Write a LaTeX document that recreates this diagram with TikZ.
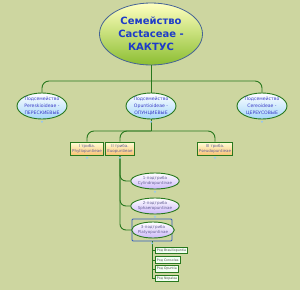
\documentclass[tikz,border=0pt]{standalone}
\usepackage{fontspec}
\setmainfont{DejaVu Sans}
\usetikzlibrary{shapes.geometric,positioning}
\definecolor{bgcol}{RGB}{205,214,160}
\definecolor{linkgreen}{RGB}{40,120,30}
\definecolor{rootline}{RGB}{70,100,150}
\definecolor{rootblue}{RGB}{30,60,200}
\definecolor{textblue}{RGB}{60,60,200}
\definecolor{textgray}{RGB}{100,95,150}
\definecolor{selblue}{RGB}{50,90,190}
\definecolor{knobblue}{RGB}{150,200,240}

\begin{document}
\begin{tikzpicture}[x=1pt,y=-1pt,
  every node/.style={font=\fontsize{4}{5}\selectfont, align=center, inner sep=0pt},
  link/.style={draw=linkgreen, line width=0.9pt, rounded corners=7pt},
  root/.style={ellipse, draw=rootline, line width=0.8pt, top color=yellow!25!white, bottom color={rgb,255:red,140;green,190;blue,50},
    minimum width=103pt, minimum height=62pt, text=rootblue, font=\bfseries\fontsize{10}{13}\selectfont},
  subfam/.style={ellipse, draw=linkgreen, line width=0.9pt, top color=white, bottom color={rgb,255:red,165;green,215;blue,250},
    minimum width=50pt, minimum height=26pt, text=textblue, font=\fontsize{4.6}{6.8}\selectfont},
  tribe/.style={rectangle, draw=linkgreen, line width=0.9pt, top color=yellow!15!white, bottom color={rgb,255:red,250;green,195;blue,115},
    minimum height=13pt, inner xsep=1.5pt, text=textgray},
  subtribe/.style={ellipse, draw=linkgreen, line width=0.9pt, top color=white, bottom color={rgb,255:red,205;green,185;blue,250},
    minimum width=40pt, minimum height=16pt, text=textgray},
  genus/.style={rectangle, draw=linkgreen, line width=0.8pt, fill=white!95!green, minimum height=6.5pt, inner xsep=1.5pt,
    text=black!70, font=\fontsize{3.2}{4}\selectfont, anchor=west},
  knob/.style={circle, fill=knobblue, minimum size=2.2pt}]
\fill[bgcol] (0,0) rectangle (300,290);
\useasboundingbox (0,0) rectangle (300,290);

% family
\node[root] (root) at (151,34) {Семейство\\Cactaceae -\\КАКТУС};

% subfamilies
\node[subfam] (sf1) at (42,106) {Подсемейство\\Pereskioideae -\\ПЕРЕСКИЕВЫЕ};
\node[subfam] (sf2) at (151,106) {Подсемейство\\Opuntioideae -\\ОПУНЦИЕВЫЕ};
\node[subfam] (sf3) at (262,106) {Подсемейство\\Cereoideae -\\ЦЕРЕУСОВЫЕ};
\coordinate (j1) at (151,81);
\draw[link] (root.south) -- (j1);
\draw[link] (j1) -| (sf1.north);
\draw[link] (j1) -| (sf3.north);
\draw[link] (j1) -- (sf2.north);

% tribes
\node[tribe] (tr1) at (87,148.5) {I триба.\\Phyllopuntieae};
\node[tribe] (tr2) at (120,148.5) {II триба.\\Euopuntieae};
\node[tribe] (tr3) at (215,148.5) {III триба.\\Pseudopuntieae};
\coordinate (j2) at (151,131);
\draw[link] (sf2.south) -- (j2);
\draw[link] (j2) -| (tr1.north);
\draw[link] (j2) -| (tr2.north);
\draw[link] (j2) -| (tr3.north);

% subtribes
\node[draw=selblue, line width=0.9pt, rounded corners=1pt, minimum width=40pt, minimum height=22pt] (sel) at (152,230) {};
\node[subtribe] (st1) at (155,181) {1-подтриба\\Cylindropuntinae};
\node[subtribe] (st2) at (155,206) {2-подтриба\\Sphaeropuntinae};
\node[subtribe] (st3) at (153,230) {3-подтриба\\Platyopuntinae};
\draw[link, rounded corners=6pt] (tr2.south) |- (st1.west);
\draw[link, rounded corners=6pt] (tr2.south) |- (st2.west);
\draw[link, rounded corners=6pt] (tr2.south) |- (st3.west);

% genera
\node[genus] (g1) at (155,250.5) {Род Brasiliopuntia};
\node[genus] (g2) at (155,260) {Род Consolea};
\node[genus] (g3) at (155,269) {Род Opuntia};
\node[genus] (g4) at (155,278.5) {Род Nopalea};
\coordinate (j3) at (152,241);
\foreach \g in {g1,g2,g3,g4}
  \draw[draw=linkgreen, line width=0.8pt] (j3) |- (\g.west);

% collapse markers
\foreach \n in {sf1,sf2,sf3,st1,st2}
  \node[knob, below=1pt of \n] (k\n) {};
\foreach \n in {tr1,tr2,tr3}
  \node[knob, below=1pt of \n] (k\n) {};
\node[knob, below=0.5pt of sel] (ksel) {};
\end{tikzpicture}
\end{document}
